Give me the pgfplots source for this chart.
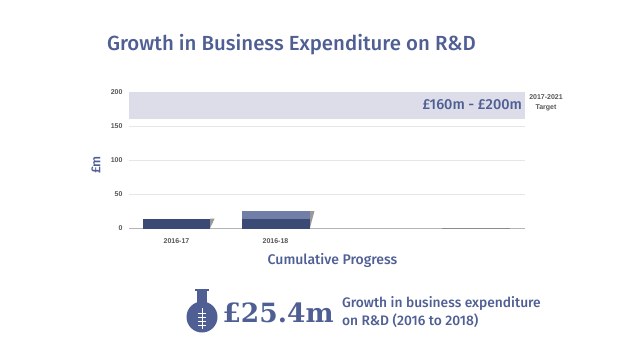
\documentclass[border=0pt]{standalone}
\usepackage{fontspec}
\setmainfont{Fira Sans}[UprightFont=* Medium]
\newfontfamily\tickfont{Liberation Sans}
\newfontfamily\slab{DejaVu Serif}
\usepackage{pgfplots}
\pgfplotsset{compat=1.18}
\definecolor{ttl}{HTML}{4F5F94}
\definecolor{navy}{HTML}{3B4A75}
\definecolor{lite}{HTML}{717FA8}
\definecolor{band}{HTML}{DCDDE9}
\definecolor{gridc}{HTML}{E6E6E6}
\definecolor{base}{HTML}{B4B4B4}
\definecolor{tickc}{HTML}{555555}
\begin{document}
\begin{tikzpicture}[x=1pt,y=1pt]
\path[fill=white] (0,0) rectangle (640,360);
\node[anchor=west,text=ttl,font=\fontsize{20.4}{22}\selectfont] at (103.5,315) {Growth in Business Expenditure on R\&D};
\begin{axis}[
  at={(129pt,131.5pt)},anchor=south west,
  scale only axis,width=396pt,height=136.5pt,
  xmin=-0.5,xmax=3.5,ymin=0,ymax=200,
  axis y line=left,axis x line=bottom,
  axis line style={draw=none},
  xtick={-0.02,0.98},xticklabels={2016-17,2016-18},
  ytick={0,50,100,150,200},
  major tick length=0pt,
  ymajorgrids,grid style={gridc,line width=0.7pt},
  tick label style={font=\fontsize{7}{8}\selectfont\bfseries\tickfont,text=tickc},
  /pgf/number format/assume math mode=true,
  xticklabel style={yshift=-7pt},
  yticklabel style={xshift=-3pt},
  clip=false,
]
\addplot[fill=band,draw=none] coordinates {(-0.5,161)(3.5,161)(3.5,200)(-0.5,200)} --cycle;
\addplot[base,line width=1pt] coordinates {(-0.5,0)(3.5,0)};
\addplot[gray!90,line width=1pt] coordinates {(2.66,0)(3.35,0)};
\addplot[fill=black!40,draw=none] coordinates {(0.32,1)(0.365,14.5)(0.32,14.5)} --cycle;
\addplot[fill=black!40,draw=none] coordinates {(1.328,1)(1.373,25.4)(1.328,25.4)} --cycle;
\addplot[fill=navy,draw=none] coordinates {(-0.36,0)(0.32,0)(0.32,14.5)(-0.36,14.5)} --cycle;
\addplot[fill=navy,draw=none] coordinates {(0.641,0)(1.328,0)(1.328,14.5)(0.641,14.5)} --cycle;
\addplot[fill=lite,draw=none] coordinates {(0.641,14.5)(1.328,14.5)(1.328,25.4)(0.641,25.4)} --cycle;
\end{axis}
\node[text=ttl,font=\fontsize{14.5}{16}\selectfont,anchor=east] at (525.5,255) {£160m - £200m};
\node[text=tickc,font=\fontsize{7}{10}\selectfont\bfseries\tickfont,align=center] at (546,257.5) {2017-2021\\Target};
\node[text=ttl,font=\fontsize{13}{16}\selectfont,rotate=90] at (96,195) {£m};
\node[text=ttl,font=\fontsize{14}{16}\selectfont] at (332.5,99.5) {Cumulative Progress};
\fill[ttl] (195,71) rectangle (209,69.5);
\fill[ttl] (197,70) rectangle (207,52);
\fill[ttl] (202,43) circle (15.5);
\draw[white,line width=0.8pt] (202,31) -- (202,52);
\foreach \yy in {35,39,43,47}{\draw[white,line width=0.8pt] (198,\yy) -- (206,\yy);}
\node[text=ttl,font=\fontsize{26.5}{28}\selectfont\bfseries\slab,anchor=west] at (219,47) {£25.4m};
\node[text=ttl,font=\fontsize{13.8}{18}\selectfont,anchor=west,align=left] at (338.5,48) {Growth in business expenditure\\on R\&D (2016 to 2018)};
\end{tikzpicture}
\end{document}
